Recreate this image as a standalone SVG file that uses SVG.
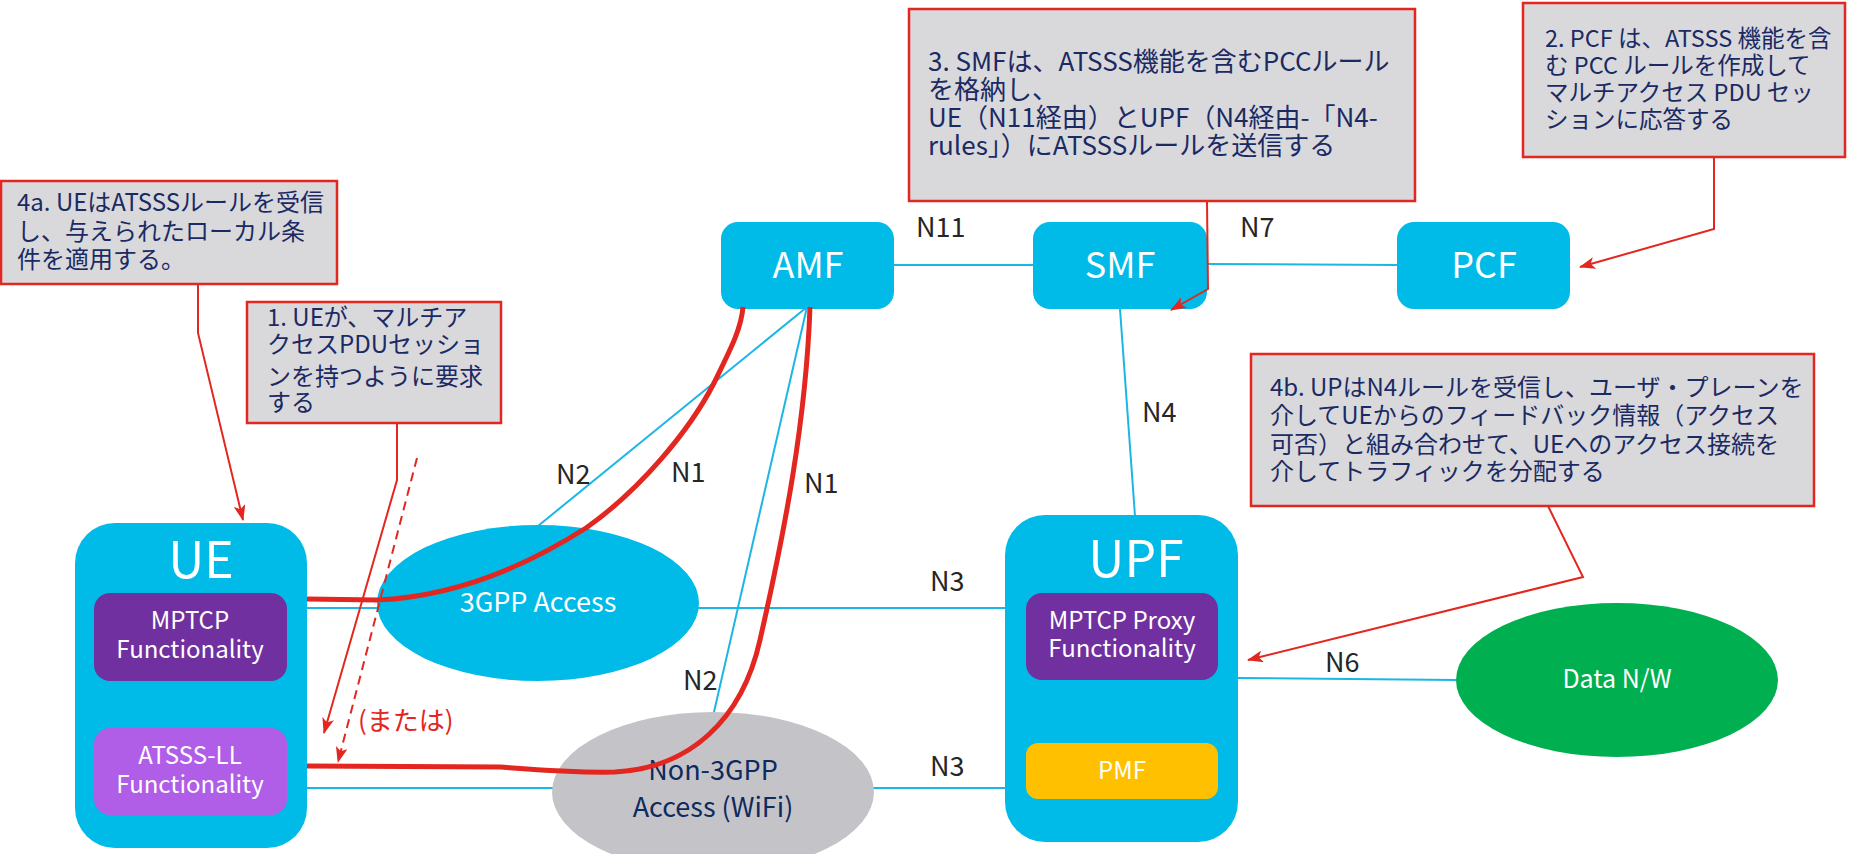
<svg xmlns="http://www.w3.org/2000/svg" width="1854" height="854" viewBox="0 0 1854 854">
<style>
  text { font-family: "Noto Sans CJK JP", "Noto Sans", sans-serif; }
  .nf { fill: #00BAE8; }
  .lbl { fill: #FFFFFF; text-anchor: middle; }
  .nl { fill: #262626; font-size: 27px; }
  .blue { stroke: #1CB6E6; stroke-width: 2; fill: none; }
  .flow { stroke: #E3261F; stroke-width: 5; fill: none; stroke-linecap: butt; }
  .call { stroke: #E3261F; stroke-width: 2; fill: none; }
  .note { fill: #D9D9DC; stroke: #E3261F; stroke-width: 2.5; }
  .nt { fill: #1B2A63; }
</style>
<defs>
  <marker id="arr" viewBox="0 0 16 12" refX="15" refY="6" markerWidth="16" markerHeight="12" orient="auto" markerUnits="userSpaceOnUse">
    <path d="M0,0 L16,6 L0,12 L4,6 z" fill="#E3261F"/>
  </marker>
</defs>
<rect width="1854" height="854" fill="#FFFFFF"/>

<g id="connectors">
  <line class="blue" x1="894" y1="265" x2="1033" y2="265"/>
  <line class="blue" x1="1207" y1="264" x2="1397" y2="265"/>
  <line class="blue" x1="1120" y1="309" x2="1135" y2="516"/>
  <line class="blue" x1="807" y1="307" x2="538" y2="526"/>
  <line class="blue" x1="807" y1="307" x2="714" y2="712"/>
  <line class="blue" x1="307" y1="608" x2="1005" y2="608"/>
  <line class="blue" x1="307" y1="788" x2="1005" y2="788"/>
  <line class="blue" x1="1238" y1="678" x2="1456" y2="680"/>
</g>

<g id="amf"><rect class="nf" x="721" y="222" width="173" height="87" rx="17"/><text class="lbl" x="808" y="278" font-size="36">AMF</text></g>
<g id="smf"><rect class="nf" x="1033" y="222" width="174" height="87" rx="17"/><text class="lbl" x="1120" y="278" font-size="36">SMF</text></g>
<g id="pcf"><rect class="nf" x="1397" y="222" width="173" height="87" rx="17"/><text class="lbl" x="1484" y="278" font-size="36">PCF</text></g>

<g id="ue">
  <rect class="nf" x="75" y="523" width="232" height="325" rx="40"/>
  <text class="lbl" x="201" y="578" font-size="50">UE</text>
  <rect x="94" y="593" width="193" height="88" rx="16" fill="#7030A0"/>
  <text class="lbl" x="190" y="629" font-size="24">MPTCP</text>
  <text class="lbl" x="190" y="658" font-size="24">Functionality</text>
  <rect x="94" y="728" width="193" height="87" rx="16" fill="#B05DE8"/>
  <text class="lbl" x="190" y="764" font-size="24">ATSSS-LL</text>
  <text class="lbl" x="190" y="793" font-size="24">Functionality</text>
</g>

<g id="access-3gpp">
  <ellipse cx="538" cy="603" rx="161" ry="78" fill="#00BAE8"/>
  <text class="lbl" x="538" y="612" font-size="27">3GPP Access</text>
</g>

<g id="access-non3gpp">
  <ellipse cx="713" cy="792" rx="161" ry="80" fill="#C4C4C8"/>
  <text x="713" y="780" font-size="27" fill="#0E2A5E" text-anchor="middle">Non-3GPP</text>
  <text x="713" y="817" font-size="27" fill="#0E2A5E" text-anchor="middle">Access (WiFi)</text>
</g>

<g id="upf">
  <rect class="nf" x="1005" y="515" width="233" height="327" rx="40"/>
  <text class="lbl" x="1136" y="577" font-size="50">UPF</text>
  <rect x="1026" y="593" width="192" height="87" rx="16" fill="#7030A0"/>
  <text class="lbl" x="1122" y="629" font-size="24">MPTCP Proxy</text>
  <text class="lbl" x="1122" y="657" font-size="24">Functionality</text>
  <rect x="1026" y="743" width="192" height="56" rx="12" fill="#FFC000"/>
  <text class="lbl" x="1122" y="779" font-size="24">PMF</text>
</g>

<g id="data-nw">
  <ellipse cx="1617" cy="680" rx="161" ry="77" fill="#00B050"/>
  <text class="lbl" x="1617" y="688" font-size="25">Data N/W</text>
</g>

<g id="link-labels">
  <text class="nl" x="916" y="237">N11</text>
  <text class="nl" x="1240" y="237">N7</text>
  <text class="nl" x="1142" y="422">N4</text>
  <text class="nl" x="556" y="484">N2</text>
  <text class="nl" x="671" y="482">N1</text>
  <text class="nl" x="804" y="493">N1</text>
  <text class="nl" x="683" y="690">N2</text>
  <text class="nl" x="930" y="591">N3</text>
  <text class="nl" x="930" y="776">N3</text>
  <text class="nl" x="1325" y="672">N6</text>
</g>

<g id="flows">
  <path class="flow" d="M307,599 L377,600 C450,597 520,570 586,528 C640,490 690,430 714,383 C730,350 741,330 743,307"/>
  <path class="flow" d="M307,766 L500,767 C540,770 575,773 615,772 C690,768 742,720 760,640 C785,530 806,420 810,307"/>
</g>

<g id="note-4a">
  <rect class="note" x="1" y="181" width="336" height="103"/>
  <text class="nt" x="17" y="211" font-size="24">4a. UEはATSSSルールを受信</text>
  <text class="nt" x="17" y="240" font-size="24">し、与えられたローカル条</text>
  <text class="nt" x="17" y="268" font-size="24">件を適用する。</text>
</g>
<g id="note-1">
  <rect class="note" x="247" y="302" width="254" height="121"/>
  <text class="nt" x="267" y="326" font-size="24">1. UEが、マルチア</text>
  <text class="nt" x="267" y="353" font-size="24">クセスPDUセッショ</text>
  <text class="nt" x="267" y="385" font-size="24">ンを持つように要求</text>
  <text class="nt" x="267" y="411" font-size="24">する</text>
</g>
<g id="note-3">
  <rect class="note" x="909" y="9" width="506" height="192"/>
  <text class="nt" x="928" y="71" font-size="26">3. SMFは、ATSSS機能を含むPCCルール</text>
  <text class="nt" x="928" y="99" font-size="26">を格納し、</text>
  <text class="nt" x="928" y="127" font-size="26">UE（N11経由）とUPF（N4経由-「N4-</text>
  <text class="nt" x="928" y="155" font-size="26">rules」）にATSSSルールを送信する</text>
</g>
<g id="note-2">
  <rect class="note" x="1523" y="3" width="322" height="154"/>
  <text class="nt" x="1545" y="47" font-size="23.5">2. PCF は、ATSSS 機能を含</text>
  <text class="nt" x="1545" y="74" font-size="23.5">む PCC ルールを作成して</text>
  <text class="nt" x="1545" y="101" font-size="23.5">マルチアクセス PDU セッ</text>
  <text class="nt" x="1545" y="128" font-size="23.5">ションに応答する</text>
</g>
<g id="note-4b">
  <rect class="note" x="1251" y="354" width="563" height="152"/>
  <text class="nt" x="1270" y="396" font-size="24">4b. UPはN4ルールを受信し、ユーザ・プレーンを</text>
  <text class="nt" x="1270" y="424" font-size="24">介してUEからのフィードバック情報（アクセス</text>
  <text class="nt" x="1270" y="453" font-size="24">可否）と組み合わせて、UEへのアクセス接続を</text>
  <text class="nt" x="1270" y="480" font-size="24">介してトラフィックを分配する</text>
</g>

<g id="callouts">
  <polyline class="call" points="198,284 198,333 243,520" marker-end="url(#arr)"/>
  <polyline class="call" points="397,423 397,480 324,733" marker-end="url(#arr)"/>
  <line class="call" x1="417" y1="458" x2="338" y2="762" stroke-dasharray="9,6" marker-end="url(#arr)"/>
  <polyline class="call" points="1207,201 1208,289 1171,310" marker-end="url(#arr)"/>
  <polyline class="call" points="1714,157 1714,229 1580,267" marker-end="url(#arr)"/>
  <polyline class="call" points="1548,506 1583,577 1248,660" marker-end="url(#arr)"/>
  <text x="358" y="730" font-size="26" fill="#E3261F">(または)</text>
</g>
</svg>
